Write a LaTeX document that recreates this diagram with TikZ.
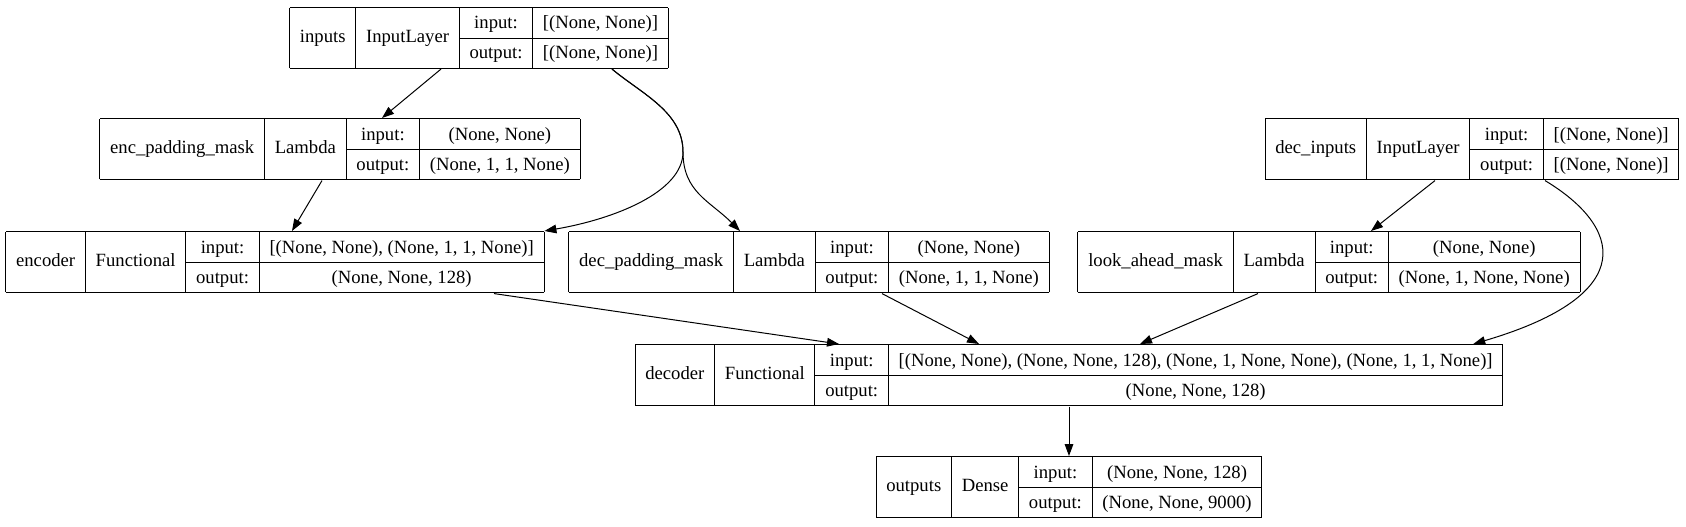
\documentclass[tikz,border=0pt]{standalone}
\usepackage{fontspec}
\setmainfont{Liberation Serif}
\usepackage{multirow}
\usetikzlibrary{arrows.meta}
\setlength{\tabcolsep}{7.7pt}
\setlength{\arrayrulewidth}{0.75pt}
\renewcommand{\arraystretch}{1.34}
\newcommand{\layertab}[4]{%
\begin{tabular}{|c|c|c|c|}\hline
\multirow{2}{*}{#1} & \multirow{2}{*}{#2} & input: & #3\\\cline{3-4}
 & & output: & #4\\\hline
\end{tabular}}

\begin{document}
\begin{tikzpicture}[x=0.75pt, y=-0.75pt,
  layer/.style={inner sep=0pt, anchor=north, font=\fontsize{14}{16.8}\selectfont},
  edge/.style={line width=0.75pt, -{Triangle[length=9pt, width=6.5pt]}}]
\useasboundingbox (0,0) rectangle (1686,526);
% layers
\node[layer] (inputs) at (479,6.5) {\layertab{inputs}{InputLayer}{[(None, None)]}{[(None, None)]}};
\node[layer] (encpad) at (340,118) {\layertab{enc\_padding\_mask}{Lambda}{(None, None)}{(None, 1, 1, None)}};
\node[layer] (decin) at (1472,118) {\layertab{dec\_inputs}{InputLayer}{[(None, None)]}{[(None, None)]}};
\node[layer] (encoder) at (275,231) {\layertab{encoder}{Functional}{[(None, None), (None, 1, 1, None)]}{(None, None, 128)}};
\node[layer] (decpad) at (809,231) {\layertab{dec\_padding\_mask}{Lambda}{(None, None)}{(None, 1, 1, None)}};
\node[layer] (lookahead) at (1329,231) {\layertab{look\_ahead\_mask}{Lambda}{(None, None)}{(None, 1, None, None)}};
\node[layer] (decoder) at (1069,344) {\layertab{decoder}{Functional}{[(None, None), (None, None, 128), (None, 1, None, None), (None, 1, 1, None)]}{(None, None, 128)}};
\node[layer] (outputs) at (1069,456) {\layertab{outputs}{Dense}{(None, None, 128)}{(None, None, 9000)}};

% connections
\coordinate (split) at (683,152);
\draw[edge] ([shift={(-38,0)}]inputs.south) -- ([shift={(42,0)}]encpad.north);
\draw[edge] ([shift={(133,0)}]inputs.south) .. controls +(30,25) and +(0,-40) .. (split) .. controls +(0,40) and +(70,-12) .. (encoder.north east);
\draw[edge] ([shift={(133,0)}]inputs.south) .. controls +(30,25) and +(0,-40) .. (split) .. controls +(0,40) and +(-30,-30) .. ([shift={(-69,0)}]decpad.north);
\draw[edge] ([shift={(-18,0)}]encpad.south) -- ([shift={(17,0)}]encoder.north);
\draw[edge] ([shift={(-37,0)}]decin.south) -- ([shift={(42,0)}]lookahead.north);
\draw[edge] ([shift={(73,0)}]decin.south) .. controls +(75,45) and +(170,-50) .. ([shift={(-30,0)}]decoder.north east);
\draw[edge] ([shift={(219,0)}]encoder.south) -- ([shift={(-230,0)}]decoder.north);
\draw[edge] ([shift={(73,0)}]decpad.south) -- ([shift={(-90,0)}]decoder.north);
\draw[edge] ([shift={(-71,0)}]lookahead.south) -- ([shift={(71,0)}]decoder.north);
\draw[edge] (decoder.south) -- (outputs.north);
\end{tikzpicture}
\end{document}
